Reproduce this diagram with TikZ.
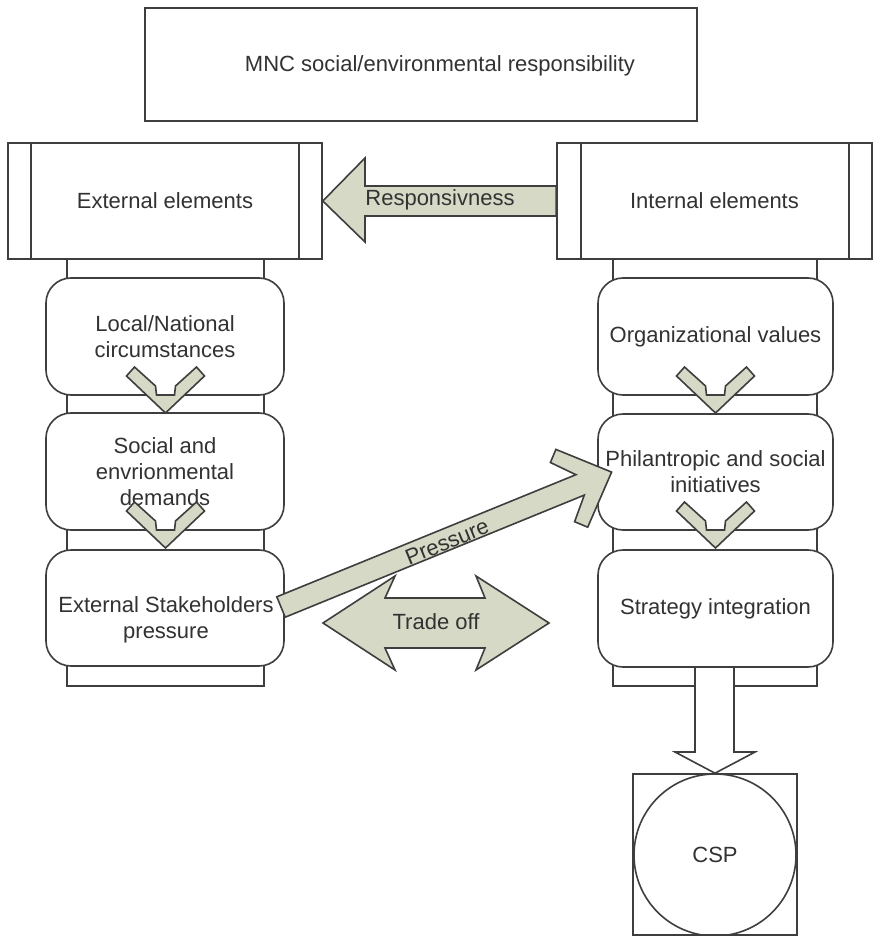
\documentclass[tikz,border=0pt]{standalone}
\usepackage{fontspec}
\setmainfont{Liberation Sans}
\definecolor{linec}{RGB}{62,62,62}
\definecolor{txtc}{RGB}{50,50,50}
\definecolor{blockfill}{RGB}{214,217,198}
\begin{document}
\begin{tikzpicture}[x=0.5pt,y=-0.5pt,
  every node/.style={font=\fontsize{11}{13}\selectfont, text=txtc},
  sbox/.style={draw=linec, line width=0.8pt, fill=white, inner sep=0pt, rectangle},
  rbox/.style={draw=linec, line width=0.8pt, fill=white, inner sep=0pt, rounded corners=12.5pt, align=center},
  stemrect/.style={draw=linec, line width=0.8pt, fill=white, inner sep=0pt},
  blockarrow/.style={draw=linec, line width=0.8pt, fill=blockfill, line join=miter},
  whitearrow/.style={draw=linec, line width=0.8pt, fill=white, line join=miter},
  sepline/.style={draw=linec, line width=0.8pt},
  txtonly/.style={inner sep=0pt, align=center},
  chev/.pic={\path[blockarrow] (0,0) -- (-39,-37) -- (-31,-46) -- (-10,-27) -- (-9,-18) -- (9,-18) -- (10,-27) -- (31,-46) -- (39,-37) -- cycle;}
]
\fill[white] (0,0) rectangle (874,936);
\useasboundingbox (0,0) rectangle (874,936);

% top box
\node[sbox, minimum width=276pt, minimum height=56.5pt] (mnc) at (421,64.5) {};
\node[txtonly] (mnctext) at (440,66) {MNC social/environmental responsibility};

% column stems
\node[stemrect, minimum width=98.5pt, minimum height=213.5pt] (lstem) at (165.5,472.5) {};
\node[stemrect, minimum width=102pt, minimum height=213.5pt] (rstem) at (715,472.5) {};

% element boxes
\node[sbox, minimum width=157pt, minimum height=58pt] (ext) at (165,201) {External elements};
\draw[sepline] ([xshift=12pt]ext.north west) -- ([xshift=12pt]ext.south west);
\draw[sepline] ([xshift=-12pt]ext.north east) -- ([xshift=-12pt]ext.south east);
\node[sbox, minimum width=157.5pt, minimum height=58pt] (int) at (714.5,201) {Internal elements};
\draw[sepline] ([xshift=12.5pt]int.north west) -- ([xshift=12.5pt]int.south west);
\draw[sepline] ([xshift=-12pt]int.north east) -- ([xshift=-12pt]int.south east);

% left column
\node[rbox, minimum width=119pt, minimum height=58.5pt] (loc) at (165,336.5) {Local/National\\circumstances};
\node[rbox, minimum width=119pt, minimum height=58.5pt] (soc) at (165,471.5) {Social and\\envrionmental\\demands};
\node[rbox, minimum width=119pt, minimum height=58pt] (exs) at (165,608) {};
\node[txtonly] (exstext) at (166,620) {External Stakeholders\\pressure};

% right column
\node[rbox, minimum width=117.5pt, minimum height=58.5pt] (org) at (715.5,336.5) {Organizational values};
\node[rbox, minimum width=117.5pt, minimum height=58pt] (phil) at (715.5,472) {Philantropic and social\\initiatives};
\node[rbox, minimum width=117.5pt, minimum height=58.5pt] (strat) at (715.5,608.5) {Strategy integration};

% chevrons
\pic at (165.5,413) {chev};
\pic at (165.5,548) {chev};
\pic at (715.5,413) {chev};
\pic at (715.5,548) {chev};

% responsiveness arrow
\path[blockarrow] (int.west |- 0,186) -- (365,186) -- (365,158) -- (ext.east) -- (365,242) -- (365,216) -- (int.west |- 0,216) -- cycle;
\node[txtonly] (resp) at (440,200) {Responsivness};

% trade off arrow
\path[blockarrow] (323,623) -- (395,576) -- (385,598) -- (485,598) -- (476,576) -- (549,623) -- (476,670) -- (485,648) -- (385,648) -- (395,670) -- cycle;
\node[txtonly] (trade) at (436,622) {Trade off};

% pressure arrow
\path[blockarrow] (276.8,596.8) -- (575.9,474.7) -- (550.4,462.5) -- (555.9,449.4) -- (611.6,472.1) -- (587.7,527.2) -- (574.6,521.7) -- (584.3,495.1) -- (285.2,617.2) -- cycle;
\node[txtonly, rotate=22.2] (press) at (447,542) {Pressure};

% CSP
\node[sbox, minimum width=82pt, minimum height=80.5pt] (cspbox) at (715,854.5) {};
\node[draw=linec, line width=0.8pt, circle, minimum size=81pt, inner sep=0pt] (csp) at (715,855) {CSP};
\path[whitearrow] (695,667) -- (695,752) -- (675,752) -- (cspbox.north) -- (755,752) -- (734,752) -- (734,667) -- cycle;
\end{tikzpicture}
\end{document}
